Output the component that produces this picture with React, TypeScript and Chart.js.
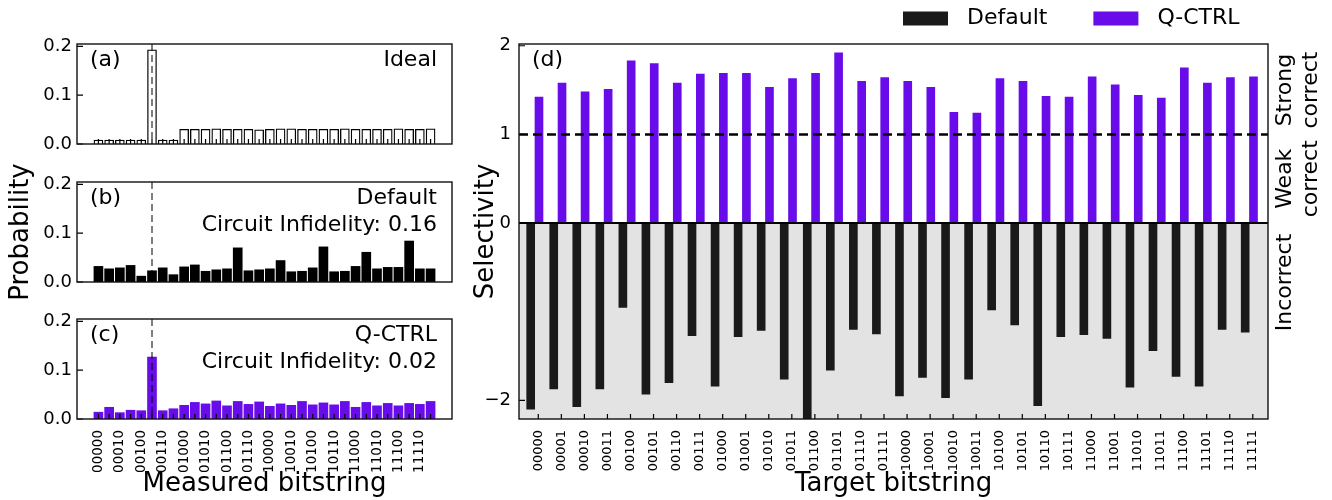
import React, { useEffect, useRef } from 'react';
import { Chart, registerables } from 'chart.js';

Chart.register(...registerables);

const FONT = "'DejaVu Sans', sans-serif";
Chart.defaults.font.family = FONT;
Chart.defaults.color = '#000';

// ---------- data ----------
const bitstrings = [
  '00000', '00001', '00010', '00011', '00100', '00101', '00110', '00111',
  '01000', '01001', '01010', '01011', '01100', '01101', '01110', '01111',
  '10000', '10001', '10010', '10011', '10100', '10101', '10110', '10111',
  '11000', '11001', '11010', '11011', '11100', '11101', '11110', '11111',
];

const idealProb = [
  0.008, 0.008, 0.008, 0.008, 0.008, 0.193, 0.008, 0.008,
  0.030, 0.030, 0.030, 0.031, 0.030, 0.030, 0.030, 0.029,
  0.030, 0.031, 0.031, 0.030, 0.030, 0.030, 0.030, 0.031,
  0.030, 0.030, 0.030, 0.030, 0.031, 0.030, 0.030, 0.031,
];

const defaultProb = [
  0.032, 0.027, 0.029, 0.034, 0.012, 0.023, 0.029, 0.015,
  0.031, 0.035, 0.022, 0.025, 0.027, 0.070, 0.023, 0.025,
  0.027, 0.044, 0.021, 0.022, 0.029, 0.072, 0.021, 0.022,
  0.032, 0.061, 0.027, 0.030, 0.030, 0.084, 0.027, 0.027,
];

const qctrlProb = [
  0.014, 0.024, 0.013, 0.018, 0.017, 0.127, 0.017, 0.021,
  0.028, 0.034, 0.031, 0.037, 0.027, 0.036, 0.030, 0.035,
  0.026, 0.031, 0.028, 0.036, 0.029, 0.033, 0.029, 0.036,
  0.024, 0.034, 0.027, 0.032, 0.027, 0.032, 0.030, 0.036,
];

const defaultSelectivity = [
  -2.10, -1.87, -2.07, -1.87, -0.95, -1.93, -1.80, -1.27,
  -1.84, -1.28, -1.21, -1.76, -2.25, -1.66, -1.20, -1.25,
  -1.95, -1.74, -1.97, -1.76, -0.98, -1.15, -2.06, -1.28,
  -1.26, -1.30, -1.85, -1.44, -1.73, -1.84, -1.20, -1.23,
];

const qctrlSelectivity = [
  1.42, 1.58, 1.48, 1.51, 1.83, 1.80, 1.58, 1.68,
  1.69, 1.69, 1.53, 1.63, 1.69, 1.92, 1.60, 1.64,
  1.60, 1.53, 1.25, 1.24, 1.63, 1.60, 1.43, 1.42,
  1.65, 1.56, 1.44, 1.41, 1.75, 1.58, 1.64, 1.65,
];

const probTickValues = [0, 0.1, 0.2];
const selectivityTickValues = [-2, 0, 1, 2];
const correctTargetIndex = 5;
const strongThreshold = 1;

const PURPLE = '#680ce9';
const DARK = '#1a1a1a';

const indices = bitstrings.map((_, i) => i);
const evenIndices = indices.filter((i) => i % 2 === 0);

// ---------- decoration plugin ----------
type Decor = {
  vLine?: number;
  hDash?: number;
  hSolid?: number;
  shadeBelow?: number;
  xTicks: number[];
  yTicks: number[];
  tag?: string;
  notes?: string[];
  yTitle?: { text: string; x: number };
  side?: { lines: string[]; y: number }[];
  legend?: { x: number; y: number };
};

function makeDecor(d: Decor) {
  return {
    id: 'decor',
    beforeDatasetsDraw(chart: any) {
      if (d.shadeBelow === undefined) return;
      const { ctx, chartArea: a, scales } = chart;
      const y0 = scales.y.getPixelForValue(d.shadeBelow);
      ctx.save();
      ctx.fillStyle = '#e3e3e3';
      ctx.fillRect(a.left, y0, a.right - a.left, a.bottom - y0);
      ctx.restore();
    },
    afterDatasetsDraw(chart: any) {
      const { ctx, chartArea: a, scales } = chart;
      const xs = scales.x;
      const ys = scales.y;
      ctx.save();
      if (d.vLine !== undefined) {
        const px = xs.getPixelForValue(d.vLine);
        ctx.strokeStyle = 'rgba(0,0,0,0.5)';
        ctx.lineWidth = 2;
        ctx.setLineDash([7, 4]);
        ctx.beginPath();
        ctx.moveTo(px, a.top);
        ctx.lineTo(px, a.bottom);
        ctx.stroke();
      }
      if (d.hDash !== undefined) {
        const py = ys.getPixelForValue(d.hDash);
        ctx.strokeStyle = '#000';
        ctx.lineWidth = 2.5;
        ctx.setLineDash([9, 5]);
        ctx.beginPath();
        ctx.moveTo(a.left, py);
        ctx.lineTo(a.right, py);
        ctx.stroke();
      }
      ctx.setLineDash([]);
      if (d.hSolid !== undefined) {
        const py = ys.getPixelForValue(d.hSolid);
        ctx.strokeStyle = '#000';
        ctx.lineWidth = 2;
        ctx.beginPath();
        ctx.moveTo(a.left, py);
        ctx.lineTo(a.right, py);
        ctx.stroke();
      }
      // inward ticks
      ctx.strokeStyle = '#000';
      ctx.lineWidth = 1.2;
      ctx.beginPath();
      d.xTicks.forEach((v) => {
        const px = xs.getPixelForValue(v);
        ctx.moveTo(px, a.bottom);
        ctx.lineTo(px, a.bottom - 5);
      });
      d.yTicks.forEach((v) => {
        const py = ys.getPixelForValue(v);
        ctx.moveTo(a.left, py);
        ctx.lineTo(a.left + 6, py);
      });
      ctx.stroke();
      // frame
      ctx.lineWidth = 1.4;
      ctx.strokeStyle = '#111';
      ctx.strokeRect(a.left, a.top, a.right - a.left, a.bottom - a.top);
      // annotations
      ctx.fillStyle = '#000';
      ctx.font = `22px ${FONT}`;
      ctx.textBaseline = 'alphabetic';
      if (d.tag) {
        ctx.textAlign = 'left';
        ctx.fillText(d.tag, a.left + 13, a.top + 22);
      }
      (d.notes || []).forEach((t, k) => {
        ctx.textAlign = 'right';
        ctx.fillText(t, a.right - 15, a.top + 22 + 27 * k);
      });
      // side labels
      (d.side || []).forEach((s) => {
        const cy = ys.getPixelForValue(s.y);
        s.lines.forEach((ln, k) => {
          ctx.save();
          ctx.translate(a.right + 17 + 26 * k, cy);
          ctx.rotate(-Math.PI / 2);
          ctx.textAlign = 'center';
          ctx.textBaseline = 'middle';
          ctx.fillText(ln, 0, 0);
          ctx.restore();
        });
      });
      // custom y title
      if (d.yTitle) {
        ctx.save();
        ctx.font = `26px ${FONT}`;
        ctx.translate(d.yTitle.x, (a.top + a.bottom) / 2);
        ctx.rotate(-Math.PI / 2);
        ctx.textAlign = 'center';
        ctx.textBaseline = 'middle';
        ctx.fillText(d.yTitle.text, 0, 0);
        ctx.restore();
      }
      // legend
      if (d.legend) {
        let x = d.legend.x;
        const y = d.legend.y;
        ctx.font = `22px ${FONT}`;
        ctx.textAlign = 'left';
        ctx.textBaseline = 'middle';
        chart.data.datasets.forEach((ds: any) => {
          ctx.fillStyle = ds.backgroundColor;
          ctx.fillRect(x, y - 7, 45, 14);
          ctx.fillStyle = '#000';
          const tx = x + 45 + 19;
          ctx.fillText(ds.label, tx, y);
          x = tx + ctx.measureText(ds.label).width + 46;
        });
      }
      ctx.restore();
    },
  };
}

// ---------- chart configs ----------
function yAxisAfterFit(width: number) {
  return (s: any) => {
    s.width = width;
    s.paddingTop = 0;
    s.paddingBottom = 0;
  };
}
function xAxisAfterFit(height: number) {
  return (s: any) => {
    s.height = height;
    s.paddingLeft = 0;
    s.paddingRight = 0;
  };
}

type ProbPanel = {
  values: number[];
  fill: string;
  border: string;
  borderWidth: number;
  label: string;
  padTop: number;
  padBottom: number;
  showX: boolean;
  decor: Decor;
};

function probConfig(p: ProbPanel): any {
  return {
    type: 'bar',
    data: {
      datasets: [
        {
          label: p.label,
          data: p.values.map((v, i) => ({ x: i, y: v })),
          backgroundColor: p.fill,
          borderColor: p.border,
          borderWidth: p.borderWidth,
          barThickness: 9,
        },
      ],
    },
    options: {
      responsive: false,
      animation: false,
      events: [],
      layout: { padding: { left: 0, top: p.padTop, right: 18, bottom: p.padBottom } },
      plugins: { legend: { display: false }, tooltip: { enabled: false } },
      scales: {
        x: {
          type: 'linear',
          min: -2,
          max: 33,
          offset: false,
          display: p.showX,
          grid: { display: false, drawTicks: false },
          border: { display: false },
          afterBuildTicks: (s: any) => {
            s.ticks = evenIndices.map((v) => ({ value: v }));
          },
          afterFit: xAxisAfterFit(p.showX ? 81 : 0),
          ticks: {
            autoSkip: false,
            minRotation: 90,
            maxRotation: 90,
            padding: 11,
            font: { size: 13.5 },
            color: '#000',
            callback: (v: number) => bitstrings[v],
          },
          title: {
            display: p.showX,
            text: 'Measured bitstring',
            font: { size: 26 },
            color: '#000',
            padding: { top: 0, bottom: 0 },
          },
        },
        y: {
          min: 0,
          max: 0.205,
          grid: { display: false, drawTicks: false },
          border: { display: false },
          afterBuildTicks: (s: any) => {
            s.ticks = probTickValues.map((v) => ({ value: v }));
          },
          afterFit: yAxisAfterFit(77),
          ticks: {
            padding: 5,
            font: { size: 18 },
            color: '#000',
            callback: (v: number) => v.toFixed(1),
          },
        },
      },
    },
    plugins: [makeDecor(p.decor)],
  };
}

function selectivityConfig(): any {
  return {
    type: 'bar',
    data: {
      datasets: [
        {
          label: 'Default',
          data: defaultSelectivity.map((v, i) => ({ x: i - 0.33, y: v })),
          backgroundColor: DARK,
          borderWidth: 0,
          barThickness: 8,
          grouped: false,
        },
        {
          label: 'Q-CTRL',
          data: qctrlSelectivity.map((v, i) => ({ x: i + 0.03, y: v })),
          backgroundColor: PURPLE,
          borderWidth: 0,
          barThickness: 8,
          grouped: false,
        },
      ],
    },
    options: {
      responsive: false,
      animation: false,
      events: [],
      layout: { padding: { left: 0, top: 44, right: 64, bottom: 0 } },
      plugins: { legend: { display: false }, tooltip: { enabled: false } },
      scales: {
        x: {
          type: 'linear',
          min: -0.837,
          max: 31.66,
          offset: false,
          grid: { display: false, drawTicks: false },
          border: { display: false },
          afterBuildTicks: (s: any) => {
            s.ticks = indices.map((v) => ({ value: v }));
          },
          afterFit: xAxisAfterFit(81),
          ticks: {
            autoSkip: false,
            minRotation: 90,
            maxRotation: 90,
            padding: 11,
            font: { size: 13 },
            color: '#000',
            callback: (v: number) => bitstrings[v],
          },
          title: {
            display: true,
            text: 'Target bitstring',
            font: { size: 26 },
            color: '#000',
            padding: { top: 0, bottom: 0 },
          },
        },
        y: {
          min: -2.21,
          max: 2.02,
          grid: { display: false, drawTicks: false },
          border: { display: false },
          afterBuildTicks: (s: any) => {
            s.ticks = selectivityTickValues.map((v) => ({ value: v }));
          },
          afterFit: yAxisAfterFit(59),
          ticks: {
            padding: 8,
            font: { size: 18 },
            color: '#000',
            callback: (v: number) => (v < 0 ? '\u2212' + Math.abs(v) : String(v)),
          },
          title: {
            display: true,
            text: 'Selectivity',
            font: { size: 26 },
            color: '#000',
            padding: { top: 11, bottom: 0 },
          },
        },
      },
    },
    plugins: [
      makeDecor({
        shadeBelow: 0,
        hDash: strongThreshold,
        hSolid: 0,
        xTicks: indices,
        yTicks: selectivityTickValues,
        tag: '(d)',
        side: [
          { lines: ['Strong', 'correct'], y: 1.5 },
          { lines: ['Weak', 'correct'], y: 0.5 },
          { lines: ['Incorrect'], y: -0.67 },
        ],
        legend: { x: 443, y: 18.5 },
      }),
    ],
  };
}

// ---------- components ----------
function ChartCanvas(props: { left: number; top: number; width: number; height: number; build: () => any }) {
  const ref = useRef<HTMLCanvasElement>(null);
  useEffect(() => {
    const chart = new Chart(ref.current as HTMLCanvasElement, props.build());
    return () => chart.destroy();
  }, []);
  return (
    <canvas
      ref={ref}
      width={props.width}
      height={props.height}
      style={{
        position: 'absolute',
        left: props.left,
        top: props.top,
        width: props.width,
        height: props.height,
      }}
    />
  );
}

export default function App() {
  return (
    <div
      style={{
        position: 'absolute',
        left: 0,
        top: 0,
        width: 1332,
        height: 500,
        background: '#fff',
        overflow: 'hidden',
      }}
    >
      <ChartCanvas
        left={0}
        top={29}
        width={470}
        height={130}
        build={() =>
          probConfig({
            values: idealProb,
            fill: '#ffffff',
            border: '#000000',
            borderWidth: 1.3,
            label: 'Ideal',
            padTop: 15,
            padBottom: 15,
            showX: false,
            decor: {
              vLine: correctTargetIndex,
              xTicks: indices,
              yTicks: probTickValues,
              tag: '(a)',
              notes: ['Ideal'],
            },
          })
        }
      />
      <ChartCanvas
        left={0}
        top={150}
        width={470}
        height={160}
        build={() =>
          probConfig({
            values: defaultProb,
            fill: '#000000',
            border: '#000000',
            borderWidth: 0,
            label: 'Default',
            padTop: 32,
            padBottom: 28,
            showX: false,
            decor: {
              vLine: correctTargetIndex,
              xTicks: indices,
              yTicks: probTickValues,
              tag: '(b)',
              notes: ['Default', 'Circuit Infidelity: 0.16'],
              yTitle: { text: 'Probability', x: 21 },
            },
          })
        }
      />
      <ChartCanvas
        left={0}
        top={304}
        width={470}
        height={196}
        build={() =>
          probConfig({
            values: qctrlProb,
            fill: PURPLE,
            border: PURPLE,
            borderWidth: 0,
            label: 'Q-CTRL',
            padTop: 15,
            padBottom: 0,
            showX: true,
            decor: {
              vLine: correctTargetIndex,
              xTicks: indices,
              yTicks: probTickValues,
              tag: '(c)',
              notes: ['Q-CTRL', 'Circuit Infidelity: 0.02'],
            },
          })
        }
      />
      <ChartCanvas left={460} top={0} width={872} height={500} build={selectivityConfig} />
    </div>
  );
}
